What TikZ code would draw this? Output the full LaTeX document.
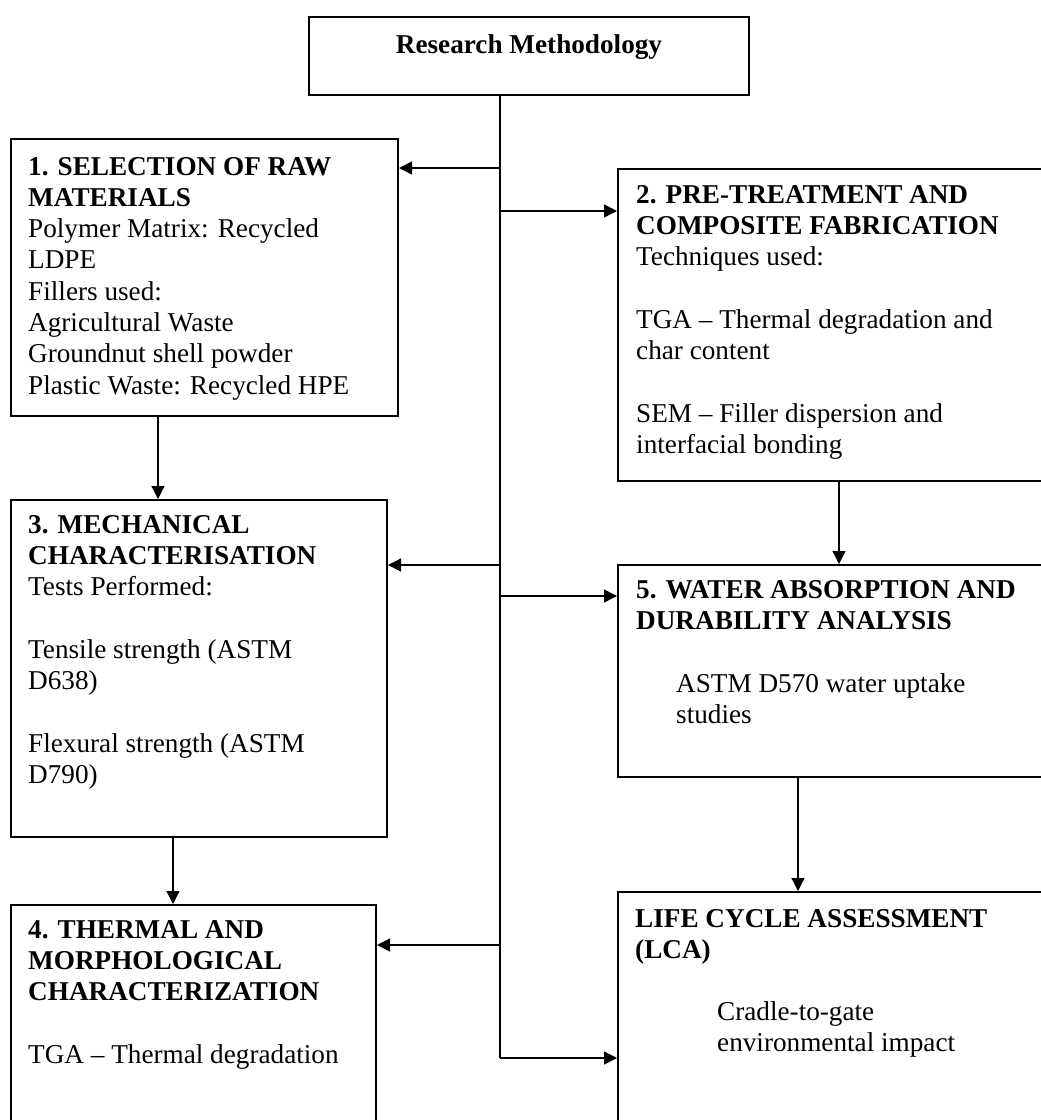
\documentclass[tikz,border=0pt]{standalone}
\usepackage{fontspec}
\setmainfont{Liberation Serif}
\usepackage{tikz}
\usetikzlibrary{arrows.meta}
\usetikzlibrary{positioning, calc}

\begin{document}
\begin{tikzpicture}[x=1pt, y=-1pt]
		\newcommand*{\trunkx}{500}
		\newcommand*{\gap}{31.3pt}
		\newcommand*{\boxlines}[1]{\parbox[t]{400pt}{#1}}
		\tikzset{
			myarrow/.tip={Triangle[length=13pt, width=13pt]},
			box/.style={draw, line width=2pt, rectangle, anchor=north west, inner sep=0pt},
			txt/.style={anchor=base west, inner sep=0pt, font=\fontsize{27.2}{31.3}\selectfont},
			link/.style={line width=1.3pt, -myarrow},
		}
		\useasboundingbox (0,0) rectangle (1041,1120);
		\clip (0,0) rectangle (1041,1120);

		% boxes
		\node[box, minimum width=440pt, minimum height=78pt] (top) at (308,16) {};
		\node[box, minimum width=387pt, minimum height=277pt] (b1) at (10,138) {};
		\node[box, minimum width=430pt, minimum height=312pt] (b2) at (617,168) {};
		\node[box, minimum width=376pt, minimum height=337pt] (b3) at (10,499) {};
		\node[box, minimum width=430pt, minimum height=212pt] (b5) at (617,564) {};
		\node[box, minimum width=365pt, minimum height=240pt] (b4) at (10,904) {};
		\node[box, minimum width=430pt, minimum height=250pt] (lca) at (617,891) {};

		% texts
		\node[txt, anchor=base] (ttop) at (529,53) {\textbf{Research Methodology}};
		\node[txt] (t1) at (28,175) {\boxlines{\textbf{1. SELECTION OF RAW}\\ \textbf{MATERIALS}\\ Polymer Matrix: Recycled\\ LDPE\\ Fillers used:\\ Agricultural Waste\\ Groundnut shell powder\\ Plastic Waste: Recycled HPE}};
		\node[txt] (t2) at (636,203) {\boxlines{\textbf{2. PRE-TREATMENT AND}\\ \textbf{COMPOSITE FABRICATION}\\ Techniques used:\\[\gap] TGA – Thermal degradation and\\ char content\\[\gap] SEM – Filler dispersion and\\ interfacial bonding}};
		\node[txt] (t3) at (28,533) {\boxlines{\textbf{3. MECHANICAL}\\ \textbf{CHARACTERISATION}\\ Tests Performed:\\[\gap] Tensile strength (ASTM\\ D638)\\[\gap] Flexural strength (ASTM\\ D790)}};
		\node[txt] (t4) at (28,938) {\boxlines{\textbf{4. THERMAL AND}\\ \textbf{MORPHOLOGICAL}\\ \textbf{CHARACTERIZATION}\\[\gap] TGA – Thermal degradation}};
		\node[txt] (t5) at (636,598) {\boxlines{\textbf{5. WATER ABSORPTION AND}\\ \textbf{DURABILITY ANALYSIS}}};
		\node[txt] (t5b) at (676,692) {\boxlines{ASTM D570 water uptake\\ studies}};
		\node[txt] (t6) at (635,927) {\boxlines{\textbf{LIFE CYCLE ASSESSMENT}\\ \textbf{(LCA)}}};
		\node[txt] (t6b) at (717,1020) {\boxlines{Cradle-to-gate\\ environmental impact}};

		% trunk and branches
		\coordinate (j1) at (\trunkx,168);
		\coordinate (j2) at (\trunkx,211);
		\coordinate (j3) at (\trunkx,565);
		\coordinate (j5) at (\trunkx,596);
		\coordinate (j4) at (\trunkx,945);
		\coordinate (jend) at (\trunkx,1058);
		\draw[line width=1.3pt] (top.south -| jend) -- (jend);
		\draw[link] (j1) -- (j1 -| b1.east);
		\draw[link] (j2) -- (j2 -| b2.west);
		\draw[link] (j3) -- (j3 -| b3.east);
		\draw[link] (j5) -- (j5 -| b5.west);
		\draw[link] (j4) -- (j4 -| b4.east);
		\draw[link] (jend) -- (jend -| lca.west);

		% downward links
		\coordinate (x13) at (158,0);
		\coordinate (x34) at (173,0);
		\coordinate (x25) at (839,0);
		\coordinate (x56) at (798,0);
		\draw[link] (b1.south -| x13) -- (b3.north -| x13);
		\draw[link] (b3.south -| x34) -- (b4.north -| x34);
		\draw[link] (b2.south -| x25) -- (b5.north -| x25);
		\draw[link] (b5.south -| x56) -- (lca.north -| x56);
	\end{tikzpicture}
\end{document}
